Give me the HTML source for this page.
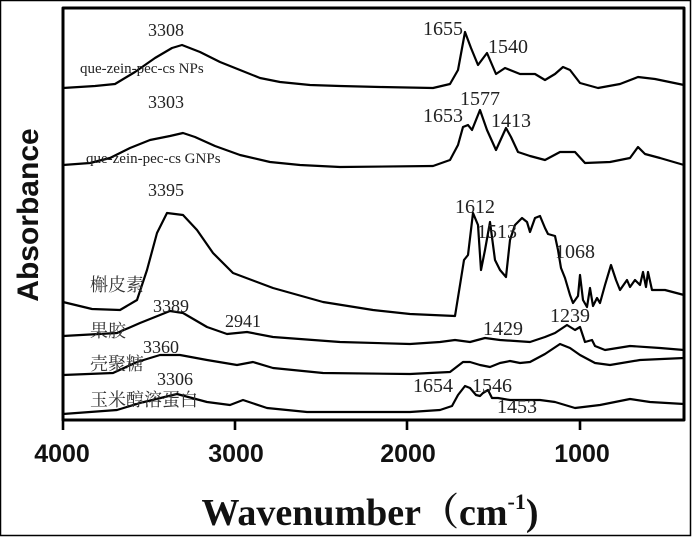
<!DOCTYPE html>
<html><head><meta charset="utf-8"><style>
html,body{margin:0;padding:0;background:#fff;}
svg{display:block;}
</style></head><body>
<svg width="692" height="537" viewBox="0 0 692 537" xmlns="http://www.w3.org/2000/svg">
<rect x="0.5" y="0.5" width="690" height="535" fill="none" stroke="#000" stroke-width="1.5"/>
<g fill="none" stroke="#000" stroke-width="2.6" stroke-linejoin="round">
<path d="M63,8 H684 V420 H63 Z" stroke-width="3"/>
<path d="M63,420 v10 M235,420 v10 M407,420 v10 M580,420 v10"/>
</g>
<g fill="none" stroke="#000" stroke-width="2.2" stroke-linejoin="round">
<path d="M63,88 L95,86 L115,84 L135,72 L155,58 L172,48 L182,45 L200,52 L220,62 L240,70 L260,78 L280,82 L310,85 L340,86 L380,87 L433,88 L450,84 L458,70 L465,32 L471,48 L478,65 L487,53 L496,74 L505,68 L520,74 L535,74 L545,80 L555,74 L563,67 L570,70 L580,83 L598,88 L620,84 L638,77 L655,79 L684,85"/>
<path d="M63,165 L90,163 L110,158 L130,148 L150,140 L170,136 L183,133 L195,137 L215,146 L240,155 L270,162 L300,165 L340,167 L433,166 L450,160 L458,145 L463,127 L468,125 L472,130 L480,110 L487,130 L496,150 L506,128 L511,137 L518,152 L530,156 L545,160 L560,152 L575,152 L585,163 L610,162 L630,158 L638,147 L645,154 L660,158 L684,165"/>
<path d="M63,302 L92,309 L120,310 L137,300 L147,270 L157,233 L167,213 L183,215 L197,230 L213,253 L233,273 L273,288 L323,302 L373,310 L410,314 L455,316 L460,285 L464,260 L468,255 L473,213 L478,225 L481,270 L485,250 L490,222 L495,260 L500,270 L506,277 L510,240 L515,225 L522,218 L527,222 L530,232 L535,218 L540,216 L545,228 L548,234 L555,236 L558,250 L561,268 L565,278 L570,295 L573,303 L578,296 L580,275 L583,300 L587,307 L590,288 L593,306 L597,298 L600,303 L605,285 L611,265 L616,280 L620,290 L627,280 L630,287 L635,280 L640,285 L643,272 L646,287 L648,272 L652,290 L665,290 L684,295"/>
<path d="M63,336 L117,333 L140,323 L170,311 L183,313 L207,327 L227,334 L247,332 L273,337 L340,342 L410,344 L440,342 L455,340 L470,342 L485,338 L500,340 L530,342 L545,337 L555,333 L567,325 L575,330 L580,327 L585,342 L592,340 L595,346 L605,350 L630,346 L660,348 L684,350"/>
<path d="M63,375 L113,373 L137,362 L160,355 L180,355 L207,360 L237,365 L253,362 L273,368 L323,373 L410,374 L450,372 L463,362 L470,362 L480,365 L490,367 L500,363 L510,361 L520,363 L530,362 L545,354 L560,344 L570,348 L580,355 L595,363 L610,365 L640,360 L684,358"/>
<path d="M63,414 L117,410 L140,403 L177,394 L207,402 L230,405 L243,400 L267,408 L307,412 L410,412 L440,410 L452,406 L458,395 L465,386 L470,388 L476,395 L480,396 L483,393 L488,390 L492,398 L498,398 L510,400 L540,400 L555,402 L575,408 L600,405 L630,399 L650,402 L684,404"/>
</g>
<g font-family="'Liberation Serif','Noto Serif CJK SC',serif" font-size="18" fill="#222">
<text x="148" y="36">3308</text>
<text x="80" y="73" font-size="15">que-zein-pec-cs NPs</text>
<text x="148" y="108">3303</text>
<text x="86" y="163" font-size="15">que-zein-pec-cs GNPs</text>
<text x="148" y="196">3395</text>
<text x="153" y="312">3389</text>
<text x="225" y="327">2941</text>
<text x="143" y="353">3360</text>
<text x="157" y="385">3306</text>
<g font-size="20">
<text x="423" y="35">1655</text>
<text x="488" y="53">1540</text>
<text x="460" y="105">1577</text>
<text x="423" y="122">1653</text>
<text x="491" y="127">1413</text>
<text x="455" y="213">1612</text>
<text x="477" y="238">1513</text>
<text x="555" y="258">1068</text>
<text x="550" y="322">1239</text>
<text x="483" y="335">1429</text>
<text x="413" y="392">1654</text>
<text x="472" y="392">1546</text>
<text x="497" y="413">1453</text>
</g>
<g font-size="18" fill="#333">
<text x="90" y="291">槲皮素</text>
<text x="90" y="337">果胶</text>
<text x="90" y="370">壳聚糖</text>
<text x="90" y="406">玉米醇溶蛋白</text>
</g>
</g>
<g font-family="'Liberation Sans',sans-serif" font-weight="bold" font-size="25" fill="#111" text-anchor="middle">
<text x="62" y="462">4000</text>
<text x="236" y="462">3000</text>
<text x="408" y="462">2000</text>
<text x="582" y="462">1000</text>
<text transform="translate(38,215) rotate(-90)" font-size="30">Absorbance</text>
</g>
<text x="370" y="525" text-anchor="middle" font-family="'Liberation Serif','Noto Serif CJK SC',serif" font-weight="bold" font-size="38" fill="#111">Wavenumber（cm<tspan font-size="22" dy="-16">-1</tspan><tspan dy="16">)</tspan></text>
</svg>
</body></html>
